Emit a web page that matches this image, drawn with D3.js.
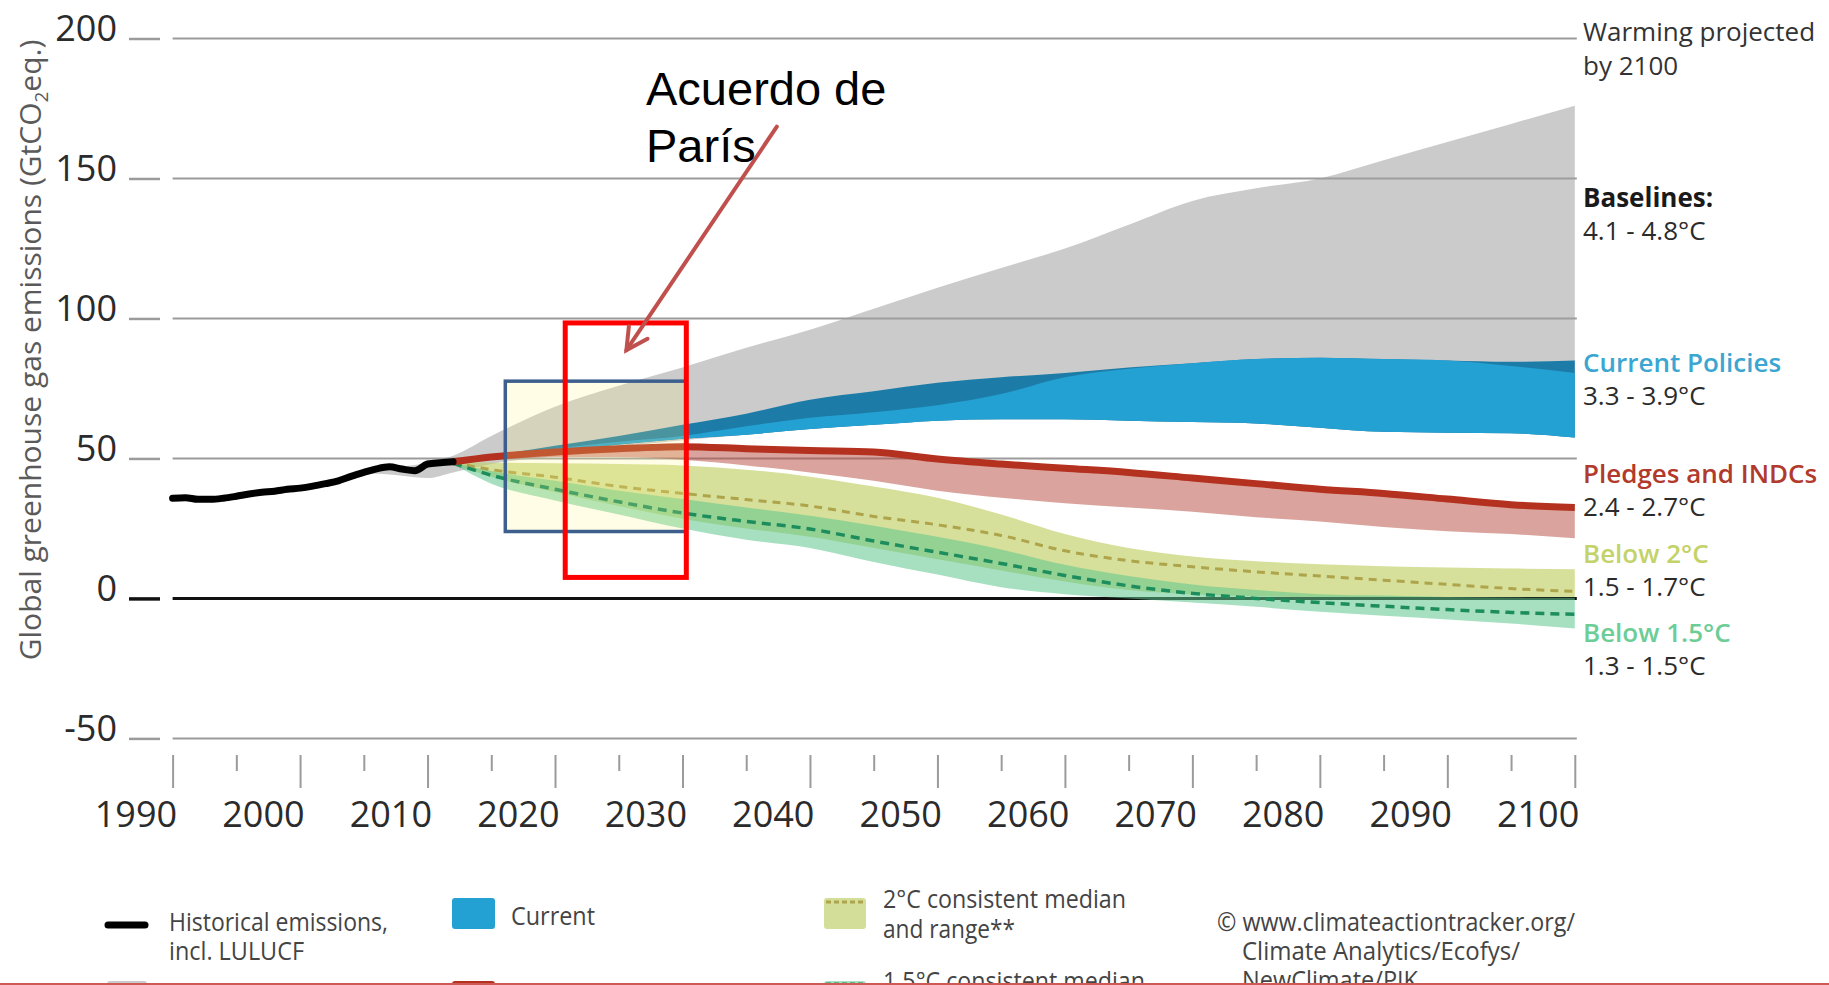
<!DOCTYPE html>
<html>
<head>
<meta charset="utf-8">
<script src="https://cdn.jsdelivr.net/npm/d3@7"></script>
<style>
  body { margin: 0; background: #fff; }
  svg { display: block; }
  text { font-family: "Open Sans", sans-serif; }
</style>
</head>
<body>
<div id="chart"></div>
<script>

var w = 1829,
    h = 985;

// historical emissions (GtCO2eq)
var histYears = [1990, 1991, 1992, 1993, 1994, 1995, 1996, 1997, 1998, 1999, 2000, 2001,
                 2002, 2003, 2004, 2005, 2006, 2007, 2008, 2009, 2010, 2011, 2012];
var histValues = [35.8, 36.0, 35.4, 35.4, 35.8, 36.5, 37.3, 37.9, 38.3, 39.0, 39.4, 40.1,
                  41.0, 42.0, 43.6, 45.0, 46.3, 47.0, 46.2, 45.6, 48.0, 48.5, 48.8];

// baseline range
var baseYears = [2003, 2006, 2010, 2012, 2015, 2020, 2025, 2030, 2035, 2040, 2045,
                 2050, 2055, 2060, 2065, 2070, 2075, 2080, 2085, 2090, 2095, 2100];
var baseHigh = [42.5, 46, 48.5, 51, 58, 68.5, 76, 82.5, 89.5, 96, 103.5,
                111, 118, 125, 133.5, 142, 146.5, 150, 156.5, 163, 169.5, 176];
var baseLow = [42.5, 44.5, 43, 45, 48, 51, 54, 56.5, 58.5, 60.5, 62,
               63.5, 64, 64, 63.5, 63, 62.5, 61, 59.5, 59.2, 59, 57.5];

// projection years shared by the other pathways
var projYears = [2012, 2015, 2020, 2025, 2030, 2035, 2040, 2045, 2050, 2055,
                 2060, 2065, 2070, 2075, 2080, 2085, 2090, 2095, 2100];

// current policies
var curHigh = [49, 51, 54.5, 58, 62, 66, 71, 74, 77, 79, 80.5, 82.5, 84, 85.5, 86, 85.5, 85, 84.5, 85];
var curMid  = [49, 50.5, 53.5, 56, 58, 61.5, 64.5, 66.5, 69, 73, 79, 82, 84, 85.5, 86, 85.5, 85, 83, 80.5];
var curLow  = [49, 50, 52.5, 55, 57, 58.5, 60.5, 62, 63.5, 64, 64, 63.5, 63, 62.5, 61, 59.5, 59.2, 59, 57.5];

// pledges and INDCs
var pledgeLine = [48.8, 50.5, 52.3, 53.5, 54.2, 53.5, 52.8, 52.3, 49.8, 48, 46.5, 45, 43, 41, 39, 37.5, 35.5, 33.5, 32.5];
var pledgeLow  = [48.5, 49.5, 50.5, 50.5, 49.5, 47.5, 45, 42, 38.5, 36, 34, 32.5, 31, 29, 27.5, 25.5, 24, 23, 21.5];

// 2C consistent
var c2High = [48.8, 48.5, 48.3, 48, 47.5, 46, 43.5, 40, 36, 30, 23, 18, 15, 13.3, 12.2, 11.5, 11, 10.7, 10.4];
var c2Med  = [48.5, 46, 43.3, 40, 37.5, 35.3, 33, 29.3, 26.3, 22.5, 17, 13.5, 11.3, 9.5, 8, 6.5, 5, 3.5, 2.5];
var c2Low  = [48, 43.5, 38, 33, 28.5, 25, 22, 18, 14, 10, 6, 3, 1.5, 0.8, 0.5, 0.5, 0.5, 0.5, 0.5];

// 1.5C consistent
var c15High = [48.5, 45.5, 42, 38.5, 35.5, 32.5, 29.5, 26, 22, 17.5, 12, 8, 5, 3, 1.5, 1, 0.5, 0.3, 0.2];
var c15Med  = [48.3, 44, 39, 34.5, 30.5, 27.5, 24.8, 20.5, 16.5, 12.5, 8.2, 4.5, 1.8, 0, -1.5, -2.8, -4, -5, -5.7];
var c15Low  = [48, 41, 35, 30, 25, 21, 18, 13, 8.5, 4, 1.5, 0, -1.5, -3, -4.8, -6.2, -7.5, -9, -10.7];

// axis ticks
var yTicks = [200, 150, 100, 50, 0, -50];
var xMajor = [1990, 2000, 2010, 2020, 2030, 2040, 2050, 2060, 2070, 2080, 2090, 2100];
var xMinor = [1995, 2005, 2015, 2025, 2035, 2045, 2055, 2065, 2075, 2085, 2095];

// end labels
var endLabels = [
    {"name": "Baselines:", "range": "4.1 - 4.8°C", "color": "#1a1a1a"},
    {"name": "Current Policies", "range": "3.3 - 3.9°C", "color": "#3aa6d1"},
    {"name": "Pledges and INDCs", "range": "2.4 - 2.7°C", "color": "#b13a2c"},
    {"name": "Below 2°C", "range": "1.5 - 1.7°C", "color": "#c4d26a"},
    {"name": "Below 1.5°C", "range": "1.3 - 1.5°C", "color": "#6ccd96"}
];

// annotation boxes (year / value corners)
var blueBox = [2016.1, 2030.3, 77.6, 23.9];
var redBox = [2020.8, 2030.3, 98.4, 7.5];
var arrowPts = [[2037.4, 168.5], [2025.6, 88.7]];


function zip(years, hi, lo) {
    return years.map(function(yr, i) {
        return {"year": yr, "hi": hi[i], "lo": lo[i]};
    });
}

var svg = d3.select("#chart").append("svg")
    .attr("width", w)
    .attr("height", h);

svg.append("rect")
    .attr("width", w)
    .attr("height", h)
    .attr("fill", "#fff");

var x = d3.scaleLinear().domain([1990, 2100]).range([172.6, 1574.8]),
    y = d3.scaleLinear().domain([-50, 200]).range([738.4, 38.5]);

// gridlines
svg.append("g").selectAll("line")
    .data(yTicks)
    .enter().append("line")
    .attr("x1", x(1990))
    .attr("x2", x(2100) + 2)
    .attr("y1", function(d) { return y(d); })
    .attr("y2", function(d) { return y(d); })
    .attr("stroke", function(d) { return d === 0 ? "#111" : "#9b9b9b"; })
    .attr("stroke-width", function(d) { return d === 0 ? 3 : 2; });

// y axis
var yAxis = svg.append("g")
    .attr("transform", "translate(160,0)")
    .call(d3.axisLeft(y).tickValues(yTicks).tickSizeInner(31).tickSizeOuter(0)
        .tickFormat(function(d) { return String(d); }));

yAxis.select(".domain").remove();
yAxis.selectAll(".tick line")
    .attr("stroke", function(d) { return d === 0 ? "#111" : "#9b9b9b"; })
    .attr("stroke-width", function(d) { return d === 0 ? 3.5 : 2.5; });
yAxis.selectAll(".tick text")
    .attr("x", -43)
    .attr("y", 2)
    .attr("dy", 0)
    .attr("fill", "#2b2b2b")
    .style("font-size", "36px")
    .style("font-family", "Open Sans");

// x axis: minor ticks, then labelled major ticks
var xMinorAxis = svg.append("g")
    .attr("transform", "translate(0,755)")
    .call(d3.axisBottom(x).tickValues(xMinor).tickSizeInner(16).tickSizeOuter(0)
        .tickFormat(null));
xMinorAxis.select(".domain").remove();
xMinorAxis.selectAll(".tick text").remove();
xMinorAxis.selectAll(".tick line")
    .attr("stroke", "#9b9b9b")
    .attr("stroke-width", 2);

var xAxis = svg.append("g")
    .attr("transform", "translate(0,755)")
    .call(d3.axisBottom(x).tickValues(xMajor).tickSizeInner(33).tickSizeOuter(0)
        .tickFormat(function(d) { return String(d); }));

xAxis.select(".domain").remove();
xAxis.selectAll(".tick line")
    .attr("stroke", "#9b9b9b")
    .attr("stroke-width", 2);
xAxis.selectAll(".tick text")
    .attr("text-anchor", "end")
    .attr("x", 4)
    .attr("y", 72)
    .attr("dy", 0)
    .attr("fill", "#2b2b2b")
    .style("font-size", "36px")
    .style("font-family", "Open Sans");

// y axis title
var ytitle = svg.append("text")
    .attr("transform", "translate(41,350) rotate(-90)")
    .attr("text-anchor", "middle")
    .attr("fill", "#5a5a5a")
    .style("font-size", "30px");
ytitle.append("tspan").text("Global greenhouse gas emissions (GtCO");
ytitle.append("tspan").attr("dy", 7).style("font-size", "19px").text("2");
ytitle.append("tspan").attr("dy", -7).text("eq.)");

var area = d3.area()
    .x(function(d) { return x(d.year); })
    .y0(function(d) { return y(d.lo); })
    .y1(function(d) { return y(d.hi); })
    .curve(d3.curveMonotoneX);

var line = d3.line()
    .x(function(d) { return x(d.year); })
    .y(function(d) { return y(d.hi); })
    .curve(d3.curveMonotoneX);

var bands = svg.append("g");

// baselines
bands.append("path")
    .attr("d", area(zip(baseYears, baseHigh, baseLow)))
    .attr("fill", "rgba(160,160,160,0.55)");

// current policies
bands.append("path")
    .attr("d", area(zip(projYears, curHigh, curLow)))
    .attr("fill", "#1c7ca7");
bands.append("path")
    .attr("d", area(zip(projYears, curMid, curLow)))
    .attr("fill", "#24a1d3");

// 2C and 1.5C ranges
bands.append("path")
    .attr("d", area(zip(projYears, c2High, c2Low)))
    .attr("fill", "rgba(192,207,100,0.65)");
bands.append("path")
    .attr("d", area(zip(projYears, c15High, c15Low)))
    .attr("fill", "rgba(93,199,140,0.55)");

// pledges range
bands.append("path")
    .attr("d", area(zip(projYears, pledgeLine, pledgeLow)))
    .attr("fill", "rgba(183,71,59,0.5)");

// medians
bands.append("path")
    .attr("d", line(zip(projYears, c2Med, c2Med)))
    .attr("fill", "none")
    .attr("stroke", "#aea44c")
    .attr("stroke-width", 3)
    .attr("stroke-dasharray", "8,6");
bands.append("path")
    .attr("d", line(zip(projYears, c15Med, c15Med)))
    .attr("fill", "none")
    .attr("stroke", "#1d8d5e")
    .attr("stroke-width", 3.5)
    .attr("stroke-dasharray", "9,6");

// pledges line
bands.append("path")
    .attr("d", line(zip(projYears, pledgeLine, pledgeLine)))
    .attr("fill", "none")
    .attr("stroke", "#b3311e")
    .attr("stroke-width", 7);

// historical
bands.append("path")
    .attr("d", line(zip(histYears, histValues, histValues)))
    .attr("fill", "none")
    .attr("stroke", "#000")
    .attr("stroke-width", 7)
    .attr("stroke-linecap", "round")
    .attr("stroke-linejoin", "round");

// end labels
var labels = svg.append("g")
    .attr("transform", "translate(1583,0)")
    .style("font-size", "26px");

labels.append("text").attr("y", 41).attr("fill", "#333").text("Warming projected");
labels.append("text").attr("y", 75).attr("fill", "#333").text("by 2100");

var labelY = [207, 372, 483, 563, 642];
endLabels.forEach(function(l, i) {
    labels.append("text")
        .attr("y", labelY[i])
        .attr("fill", l.color)
        .style("font-weight", i === 0 ? 700 : 600)
        .text(l.name);
    labels.append("text")
        .attr("y", labelY[i] + 33)
        .attr("fill", "#2b2b2b")
        .text(l.range);
});

// legend
var legend = svg.append("g")
    .attr("fill", "#444")
    .style("font-size", "26px")
    .style("font-family", "'Liberation Sans Narrow', 'Open Sans', sans-serif");

legend.append("line")
    .attr("x1", 108).attr("x2", 145)
    .attr("y1", 925).attr("y2", 925)
    .attr("stroke", "#000").attr("stroke-width", 7)
    .attr("stroke-linecap", "round");
legend.append("text").attr("x", 169).attr("y", 931)
    .attr("textLength", 219).attr("lengthAdjust", "spacingAndGlyphs")
    .text("Historical emissions,");
legend.append("text").attr("x", 169).attr("y", 960)
    .attr("textLength", 135).attr("lengthAdjust", "spacingAndGlyphs")
    .text("incl. LULUCF");

legend.append("rect")
    .attr("x", 452).attr("y", 898).attr("width", 43).attr("height", 31)
    .attr("rx", 3).attr("fill", "#24a1d3");
legend.append("text").attr("x", 511).attr("y", 925)
    .attr("textLength", 84).attr("lengthAdjust", "spacingAndGlyphs")
    .text("Current");

legend.append("rect")
    .attr("x", 824).attr("y", 898).attr("width", 42).attr("height", 31)
    .attr("rx", 3).attr("fill", "#d3df98");
legend.append("line")
    .attr("x1", 826).attr("x2", 864)
    .attr("y1", 902).attr("y2", 902)
    .attr("stroke", "#aea44c").attr("stroke-width", 3)
    .attr("stroke-dasharray", "5,3");
legend.append("text").attr("x", 883).attr("y", 908)
    .attr("textLength", 243).attr("lengthAdjust", "spacingAndGlyphs")
    .text("2°C consistent median");
legend.append("text").attr("x", 883).attr("y", 938)
    .attr("textLength", 132).attr("lengthAdjust", "spacingAndGlyphs")
    .text("and range**");

// second legend row, cut by the frame
legend.append("rect")
    .attr("x", 107).attr("y", 981).attr("width", 40).attr("height", 31)
    .attr("rx", 3).attr("fill", "#cbcbcb");
legend.append("rect")
    .attr("x", 452).attr("y", 981).attr("width", 43).attr("height", 31)
    .attr("rx", 3).attr("fill", "#b3311e");
legend.append("rect")
    .attr("x", 824).attr("y", 981).attr("width", 42).attr("height", 31)
    .attr("rx", 3).attr("fill", "#a6e0c0");
legend.append("line")
    .attr("x1", 826).attr("x2", 864)
    .attr("y1", 984).attr("y2", 984)
    .attr("stroke", "#1d8d5e").attr("stroke-width", 3)
    .attr("stroke-dasharray", "5,3");
legend.append("text").attr("x", 883).attr("y", 990)
    .attr("textLength", 262).attr("lengthAdjust", "spacingAndGlyphs")
    .text("1.5°C consistent median");

legend.append("text").attr("x", 1217).attr("y", 931)
    .attr("textLength", 358).attr("lengthAdjust", "spacingAndGlyphs")
    .text("© www.climateactiontracker.org/");
legend.append("text").attr("x", 1242).attr("y", 960)
    .attr("textLength", 278).attr("lengthAdjust", "spacingAndGlyphs")
    .text("Climate Analytics/Ecofys/");
legend.append("text").attr("x", 1242).attr("y", 989)
    .attr("textLength", 176).attr("lengthAdjust", "spacingAndGlyphs")
    .text("NewClimate/PIK");

// slide frame line at the bottom
svg.append("line")
    .attr("x1", 0).attr("x2", w)
    .attr("y1", 984).attr("y2", 984)
    .attr("stroke", "#cf5a55")
    .attr("stroke-width", 2);

// annotations
svg.append("rect")
    .attr("x", x(blueBox[0]))
    .attr("y", y(blueBox[2]))
    .attr("width", x(blueBox[1]) - x(blueBox[0]))
    .attr("height", y(blueBox[3]) - y(blueBox[2]))
    .attr("fill", "rgba(255,245,130,0.2)")
    .attr("stroke", "#3c5f8e")
    .attr("stroke-width", 3.5);

svg.append("rect")
    .attr("x", x(redBox[0]))
    .attr("y", y(redBox[2]))
    .attr("width", x(redBox[1]) - x(redBox[0]))
    .attr("height", y(redBox[3]) - y(redBox[2]))
    .attr("fill", "none")
    .attr("stroke", "#ff0000")
    .attr("stroke-width", 5);

var tail = [x(arrowPts[0][0]), y(arrowPts[0][1])],
    tip = [x(arrowPts[1][0]), y(arrowPts[1][1])],
    ang = Math.atan2(tail[1] - tip[1], tail[0] - tip[0]),
    wing = 24,
    spread = 28 * Math.PI / 180;

var arrow = svg.append("g")
    .attr("stroke", "#c0504d")
    .attr("stroke-width", 4)
    .attr("stroke-linecap", "round")
    .attr("fill", "none");
arrow.append("line")
    .attr("x1", tail[0]).attr("y1", tail[1])
    .attr("x2", tip[0]).attr("y2", tip[1]);
arrow.append("path")
    .attr("d", "M" + (tip[0] + wing * Math.cos(ang - spread)) + "," + (tip[1] + wing * Math.sin(ang - spread)) +
               "L" + tip[0] + "," + tip[1] +
               "L" + (tip[0] + wing * Math.cos(ang + spread)) + "," + (tip[1] + wing * Math.sin(ang + spread)))
    .attr("stroke-linejoin", "miter");

var note = svg.append("text")
    .attr("x", 646)
    .attr("y", 105)
    .attr("fill", "#000")
    .style("font-family", "'Liberation Sans', Arial, sans-serif")
    .style("font-size", "47px");
note.append("tspan").attr("x", 646).text("Acuerdo de");
note.append("tspan").attr("x", 646).attr("dy", 57).text("París");

</script>
</body>
</html>
